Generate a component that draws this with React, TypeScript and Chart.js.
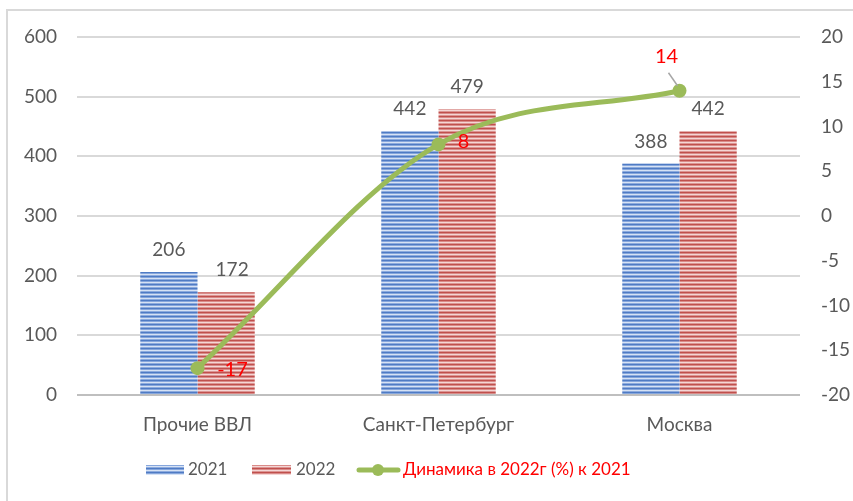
import React, { useEffect, useRef } from "react";
import { Chart, registerables } from "chart.js";

Chart.register(...registerables);

const categories = ["Прочие ВВЛ", "Санкт-Петербург", "Москва"];
const values2021 = [206, 442, 388];
const values2022 = [172, 479, 442];
const dynamics = [-17, 8, 14];
const seriesNames = ["2021", "2022", "Динамика в 2022г (%) к 2021"];

const FONT = 'Lato, "Open Sans", "DejaVu Sans", sans-serif';
const GRAY = "#595959";

function makePattern(colors: string[]) {
  const c = document.createElement("canvas");
  c.width = 4;
  c.height = colors.length;
  const ctx = c.getContext("2d")!;
  colors.forEach((col, i) => {
    ctx.fillStyle = col;
    ctx.fillRect(0, i, 4, 1);
  });
  return ctx.createPattern(c, "repeat")!;
}

export default function App() {
  const ref = useRef<HTMLCanvasElement>(null);
  useEffect(() => {
    const blue = makePattern(["#4f7bc4", "#86a6dc", "#d6e2f4", "#8dabde"]);
    const red = makePattern(["#c0504d", "#d98b89", "#f4d6d5", "#dc9593"]);

    const labelsPlugin = {
      id: "labels",
      beforeDraw(chart: any) {
        const ctx = chart.ctx;
        ctx.save();
        ctx.strokeStyle = "#d9d9d9";
        ctx.lineWidth = 2;
        ctx.beginPath();
        ctx.moveTo(7, 501);
        ctx.lineTo(7, 10);
        ctx.lineTo(853, 10);
        ctx.stroke();
        ctx.restore();
      },
      afterDatasetsDraw(chart: any) {
        const ctx = chart.ctx;
        ctx.save();
        ctx.font = `19px ${FONT}`;
        ctx.textAlign = "center";
        ctx.textBaseline = "middle";
        ctx.fillStyle = GRAY;
        [0, 1].forEach((di) => {
          const meta = chart.getDatasetMeta(di);
          meta.data.forEach((el: any, i: number) => {
            const v = chart.data.datasets[di].data[i];
            ctx.fillText(String(v), el.x + (di === 1 && i === 0 ? 6 : 0), el.y - 22);
          });
        });
        const lm = chart.getDatasetMeta(2);
        ctx.fillStyle = "#ff0000";
        ctx.font = `20px ${FONT}`;
        const offs = [
          [35, 1],
          [25, -3],
          [-13, -34],
        ];
        lm.data.forEach((el: any, i: number) => {
          const v = dynamics[i];
          const x = el.x + offs[i][0];
          const y = el.y + offs[i][1];
          ctx.fillText(String(v), x, y);
          if (i === 2) {
            ctx.strokeStyle = "#a6a6a6";
            ctx.lineWidth = 1.5;
            ctx.beginPath();
            ctx.moveTo(x + 2, y + 16);
            ctx.lineTo(el.x - 2, el.y - 5);
            ctx.stroke();
          }
        });
        ctx.restore();
      },
      afterDraw(chart: any) {
        const ctx = chart.ctx;
        ctx.save();
        const y = 470;
        ctx.font = `17px ${FONT}`;
        ctx.textBaseline = "middle";
        ctx.textAlign = "left";
        ctx.fillStyle = blue;
        ctx.fillRect(146, y - 5, 38, 10);
        ctx.fillStyle = GRAY;
        ctx.fillText(seriesNames[0], 188, y);
        ctx.fillStyle = red;
        ctx.fillRect(252, y - 5, 39, 10);
        ctx.fillStyle = GRAY;
        ctx.fillText(seriesNames[1], 296, y);
        ctx.strokeStyle = "#9bbb59";
        ctx.lineWidth = 5;
        ctx.lineCap = "round";
        ctx.beginPath();
        ctx.moveTo(359, y);
        ctx.lineTo(398, y);
        ctx.stroke();
        ctx.fillStyle = "#9bbb59";
        ctx.beginPath();
        ctx.arc(378, y, 6, 0, Math.PI * 2);
        ctx.fill();
        ctx.fillStyle = "#ff0000";
        ctx.fillText(seriesNames[2], 403, y);
        ctx.restore();
      },
    };

    const chart = new Chart(ref.current!, {
      type: "bar",
      data: {
        labels: categories,
        datasets: [
          {
            type: "bar",
            label: seriesNames[0],
            data: values2021,
            backgroundColor: blue,
            yAxisID: "y",
            order: 1,
            barPercentage: 1,
            categoryPercentage: 0.475,
          },
          {
            type: "bar",
            label: seriesNames[1],
            data: values2022,
            backgroundColor: red,
            yAxisID: "y",
            order: 1,
            barPercentage: 1,
            categoryPercentage: 0.475,
          },
          {
            type: "line",
            label: seriesNames[2],
            data: dynamics,
            borderColor: "#9bbb59",
            backgroundColor: "#9bbb59",
            borderWidth: 5,
            pointRadius: 7,
            pointBackgroundColor: "#9bbb59",
            pointBorderWidth: 0,
            cubicInterpolationMode: "monotone",
            yAxisID: "y1",
            order: 0,
          } as any,
        ],
      },
      options: {
        animation: false,
        responsive: false,
        layout: { padding: { top: 37, left: 0, right: 0, bottom: 0 } },
        plugins: { legend: { display: false }, tooltip: { enabled: false } },
        scales: {
          x: {
            grid: { display: false, drawTicks: false },
            border: { display: false },
            ticks: { color: GRAY, font: { family: FONT, size: 19 }, padding: 18 },
            afterFit: (s: any) => {
              s.height = 106;
            },
          },
          y: {
            position: "left",
            min: 0,
            max: 600,
            ticks: { stepSize: 100, color: GRAY, font: { family: FONT, size: 19 }, padding: 20 },
            grid: {
              drawTicks: false,
              color: (c: any) => (c.tick && c.tick.value === 0 ? "#bfbfbf" : "#d9d9d9"),
              lineWidth: 2,
            },
            border: { display: false },
            afterFit: (s: any) => {
              s.width = 77;
            },
          },
          y1: {
            position: "right",
            min: -20,
            max: 20,
            ticks: { stepSize: 5, color: GRAY, font: { family: FONT, size: 19 }, padding: 21 },
            grid: { display: false, drawTicks: false },
            border: { display: false },
            afterFit: (s: any) => {
              s.width = 53;
            },
          },
        },
      },
      plugins: [labelsPlugin],
    });
    return () => chart.destroy();
  }, []);
  return (
    <div style={{ position: "fixed", left: 0, top: 0, width: 853, height: 501, background: "#fff" }}>
      <canvas ref={ref} width={853} height={501} style={{ display: "block" }} />
    </div>
  );
}
